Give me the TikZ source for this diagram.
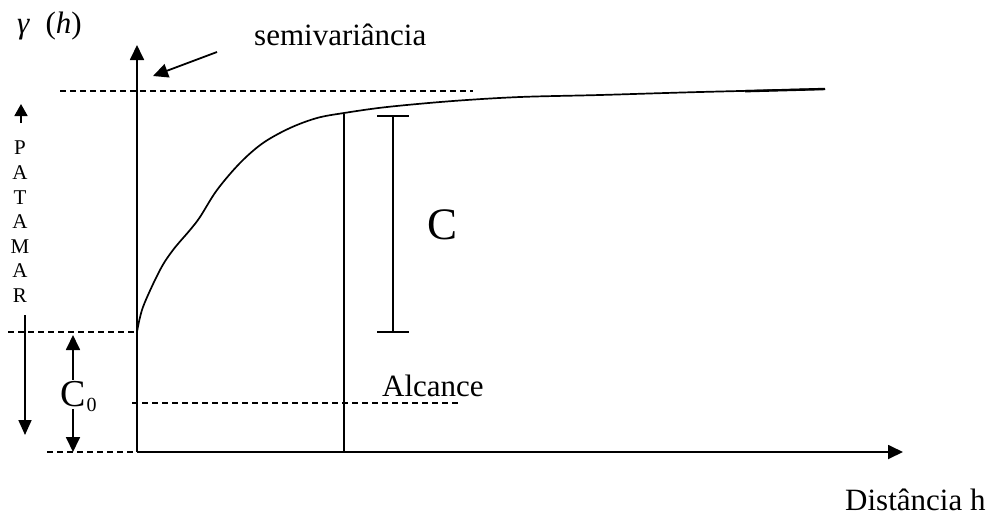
\documentclass[tikz,border=0pt]{standalone}
\usepackage{fontspec}
\setmainfont{Liberation Serif}
\usetikzlibrary{arrows.meta}
\begin{document}
\begin{tikzpicture}[x=1pt,y=-1pt,
  ln/.style={line width=1.8pt},
  arr/.style={ln,-{Triangle[length=15pt,width=14pt]}},
  darr/.style={ln,{Triangle[length=15pt,width=14pt]}-{Triangle[length=15pt,width=14pt]}},
  dsh/.style={line width=1.7pt,dash pattern=on 6pt off 4pt},
  lbl/.style={inner sep=0pt,font=\fontsize{31}{37}\selectfont}]
\useasboundingbox (0,0) rectangle (994,515);
% axes
\coordinate (O) at (137,452);
\coordinate (Ytip) at (137,45);
\coordinate (Xtip) at (903,452);
\draw[arr] (O) -- (Ytip);
\draw[arr] (O) -- (Xtip);
% labels
\node[lbl,anchor=base west] (gam) at (17,33) {\textit{γ}\hspace{0.5em}(\textit{h})};
\node[lbl,anchor=base west] (semi) at (254,45) {semivariância};
\node[lbl,anchor=base west] (dist) at (845,510) {Distância h};
\node[lbl,anchor=base west] (alc) at (382,396) {Alcance};
\node[inner sep=0pt,font=\fontsize{45}{50}\selectfont] (cl) at (443,225) {C};
% pointer
\coordinate (ps) at (217,52);
\coordinate (pt) at (153,76);
\draw[arr] (ps) -- (pt);
% dashed lines
\coordinate (d1a) at (60,91);   \coordinate (d1b) at (473,91);
\coordinate (d2a) at (8,332);   \coordinate (d2b) at (137,332);
\coordinate (d3a) at (132,403); \coordinate (d3b) at (460,403);
\coordinate (d4a) at (47,452);  \coordinate (d4b) at (137,452);
\draw[dsh] (d1a) -- (d1b);
\draw[dsh] (d2a) -- (d2b);
\draw[dsh] (d3a) -- (d3b);
\draw[dsh] (d4a) -- (d4b);
% curve
\draw[line width=1.7pt] plot[smooth,tension=0.55] coordinates {(137,332) (143,307) (160,270) (173,250) (190,230) (200,217) (217,190) (240,163) (263,143) (290,128) (317,118) (344,113) (387,107) (453,101) (520,97) (600,95) (700,92) (825,89)};
\coordinate (ta) at (745,91.2);
\coordinate (tb) at (825,89);
\draw[line width=2.4pt] (ta) -- (tb);
% range line
\coordinate (ra) at (344,114);
\coordinate (rb) at (344,452);
\draw[ln] (ra) -- (rb);
% C bar
\coordinate (ct) at (393,116);
\coordinate (cb) at (393,332);
\draw[ln] (ct) -- (cb);
\draw[ln] ([xshift=-16pt]ct) -- ([xshift=16pt]ct);
\draw[ln] ([xshift=-16pt]cb) -- ([xshift=16pt]cb);
% PATAMAR
\coordinate (pua) at (21,123);
\coordinate (pub) at (21,104);
\draw[ln,-{Triangle[length=12pt,width=13pt]}] (pua) -- (pub);
\node[inner sep=0pt,anchor=north,align=center,font=\fontsize{21}{24.6}\selectfont] (pat) at (20,141) {P\\A\\T\\A\\M\\A\\R};
\coordinate (pda) at (25,315);
\coordinate (pdb) at (25,435);
\draw[ln,-{Triangle[length=15pt,width=13pt]}] (pda) -- (pdb);
% C0
\coordinate (c0a) at (73,335);
\coordinate (c0b) at (73,452);
\draw[darr] (c0a) -- (c0b);
\node[inner sep=1.5pt,fill=white,font=\fontsize{38}{42}\selectfont] (c0) at (73,394.5) {C};
\node[inner sep=0pt,anchor=base west,font=\fontsize{20}{22}\selectfont] (c0s) at ([xshift=-1pt,yshift=-5pt]c0.base east) {0};
\end{tikzpicture}
\end{document}
